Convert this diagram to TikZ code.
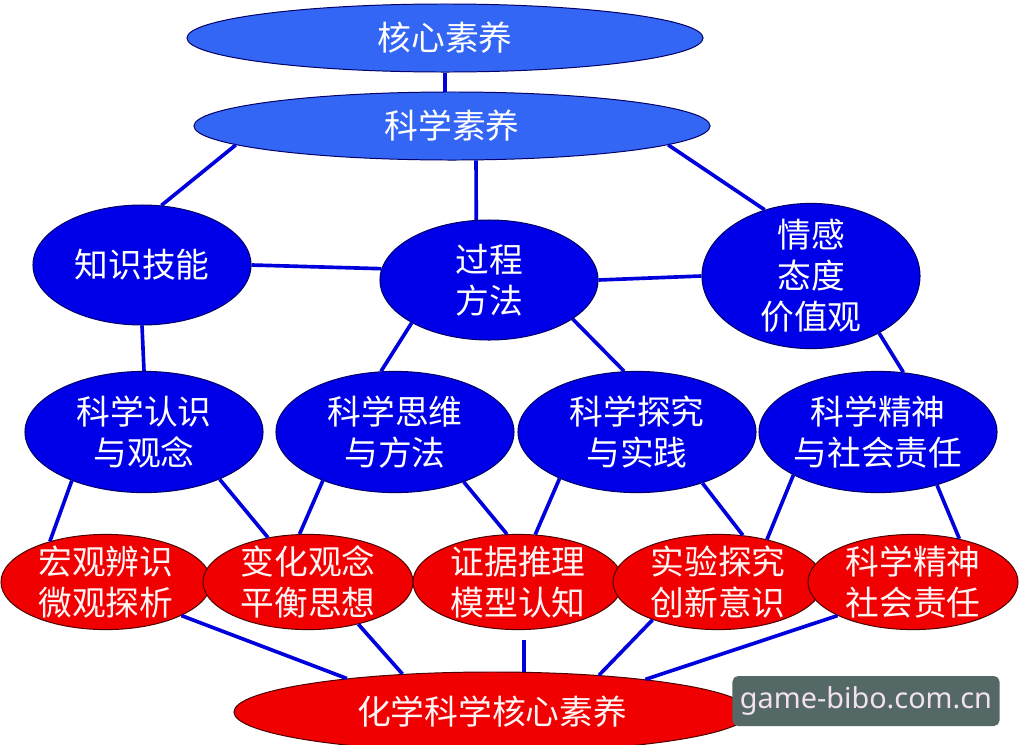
\documentclass[tikz,border=0pt]{standalone}
\usepackage{fontspec}
\newfontfamily\cjk{Noto Sans CJK SC}
\newfontfamily\wmfont{Noto Sans}
\usepackage{tikz}
\usetikzlibrary{shapes.geometric, calc}
\definecolor{topblue}{RGB}{51, 102, 245}
\definecolor{midblue}{RGB}{0, 0, 232}
\definecolor{linkblue}{RGB}{0, 0, 220}
\definecolor{redfill}{RGB}{240, 0, 0}
\definecolor{wmgray}{RGB}{84, 104, 102}
\definecolor{wmtext}{RGB}{242, 226, 238}

\begin{document}
\begin{tikzpicture}[x=0.025cm, y=-0.025cm,
		bulle/.style={ellipse, inner sep=-5pt, align=center, text=white,
			line width=0.7pt, font=\cjk\fontsize{24}{29.2}\selectfont},
		core/.style={bulle, draw=blue!40!black, fill=topblue,
			minimum width=12.9cm, minimum height=1.7cm},
		mid/.style={bulle, draw=blue!40!black, fill=midblue,
			minimum width=5.45cm, minimum height=3cm},
		pillar/.style={bulle, draw=blue!40!black, fill=midblue,
			minimum width=5.95cm, minimum height=3.03cm},
		comp/.style={bulle, draw=red!30!black, fill=redfill,
			minimum width=5.25cm, minimum height=2.38cm, text=red!4},
		root/.style={comp, minimum width=12.9cm, minimum height=2cm},
		link/.style={draw=linkblue, line width=2.6pt},
		wm/.style={rectangle, rounded corners=4pt, fill=wmgray, text=wmtext,
			minimum width=6.675cm, minimum height=1.25cm,
			font=\wmfont\fontsize{20.5}{24}\selectfont}
		]
		\clip (0,0) rectangle (1020,744);
		\fill[white] (0,0) rectangle (1020,744);
		
		% Sommet
		\node[core] (hx) at (445,38)  {核心素养};
		\node[core] (kx) at (452,126) {科学素养};
		
		% Trois dimensions
		\node[mid] (zs) at (142,265) {知识技能};
		\node[mid] (gc) at (489,280) {过程\\方法};
		\node[mid, minimum height=3.63cm] (qg) at (811,276) {情感\\态度\\价值观};
		
		% Quatre piliers
		\node[pillar] (rz) at (144,432) {科学认识\\与观念};
		\node[pillar] (rs) at (395,432) {科学思维\\与方法};
		\node[pillar] (rt) at (637,432) {科学探究\\与实践};
		\node[pillar] (rj) at (878,432) {科学精神\\与社会责任};
		
		% Cinq composantes
		\node[comp] (h1) at (106,582) {宏观辨识\\微观探析};
		\node[comp] (h2) at (308,582) {变化观念\\平衡思想};
		\node[comp] (h3) at (518,582) {证据推理\\模型认知};
		\node[comp] (h4) at (718,582) {实验探究\\创新意识};
		\node[comp] (h5) at (913,582) {科学精神\\社会责任};
		
		\node[root] (bt) at (492,712) {化学科学核心素养};
		
		% Liens
		\draw[link] (hx.south) -- (hx.south |- kx.north);
		\draw[link] (zs.east) -- (gc.174);
		\draw[link] (gc.east) -- (qg.west);
		\foreach \a/\b in {kx.185/zs.72, kx.305/gc.102, kx.355/qg.125,
			zs.south/rz.north, gc.209/rs.103, gc.335/rt.102, qg.320/rj.67,
			rz.214/h1.144, rz.328/h2.132, rs.214/h2.100, rs.324/h3.103,
			rt.211/h3.70, rt.322/h4.62, rj.207/h4.41, rj.318/h5.43,
			h1.336/bt.167, h2.320/bt.157, h4.210/bt.19, h5.204/bt.12}
		\draw[link] (\a) -- (\b);
		\coordinate (h3b) at ($(h3.south)+(6,10)$);
		\draw[link] (h3b) -- (h3b |- bt.north);
		
		% Filigrane
		\node[wm] (mark) at (866,701) {game-bibo.com.cn};
	\end{tikzpicture}
\end{document}
